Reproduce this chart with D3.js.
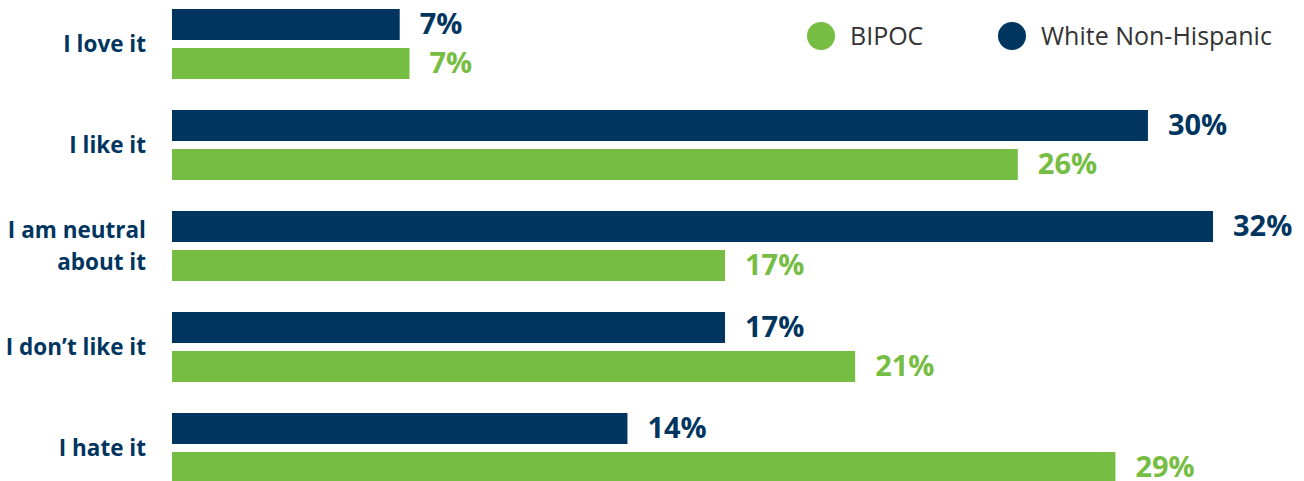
<!DOCTYPE html>
<html>
<head>
<meta charset="utf-8">
<script src="https://cdn.jsdelivr.net/npm/d3@7"></script>
<style>
  body { margin: 0; background: #fff; }
  svg { display: block; }
</style>
</head>
<body>
<div id="chart"></div>
<script>
// data
var categories = ["I love it", "I like it", "I am neutral about it", "I don\u2019t like it", "I hate it"];
var categoryLines = [["I love it"], ["I like it"], ["I am neutral", "about it"], ["I don\u2019t like it"], ["I hate it"]];
var seriesNames = ["White Non-Hispanic", "BIPOC"];
var whiteValues = [7, 30, 32, 17, 14];
var bipocValues = [7.3, 26, 17, 21, 29];
var legendOrder = ["BIPOC", "White Non-Hispanic"];

var navy = "#00355f",
    green = "#76bd43";

var width = 1304, height = 481;

var svg = d3.select("#chart").append("svg")
    .attr("width", width)
    .attr("height", height);

var x = d3.scaleLinear().domain([0, 32]).range([172, 1213]);

var y = d3.scaleBand()
    .domain(categories)
    .range([9, 9 + 101 * categories.length])
    .paddingInner(0)
    .paddingOuter(0);

var ySub = d3.scaleBand()
    .domain(seriesNames)
    .range([0, 70])
    .paddingInner(0.205);

var color = d3.scaleOrdinal().domain(seriesNames).range([navy, green]);

var rows = categories.map(function(c, i) {
    return {
        cat: c,
        lines: categoryLines[i],
        values: [
            {series: "White Non-Hispanic", value: whiteValues[i]},
            {series: "BIPOC", value: bipocValues[i]}
        ]
    };
});

var group = svg.selectAll(".group")
    .data(rows)
    .enter().append("g")
    .attr("class", "group")
    .attr("transform", function(d) { return "translate(0," + y(d.cat) + ")"; });

group.selectAll("rect")
    .data(function(d) { return d.values; })
    .enter().append("rect")
    .attr("x", x(0))
    .attr("y", function(d) { return ySub(d.series); })
    .attr("width", function(d) { return x(d.value) - x(0); })
    .attr("height", ySub.bandwidth())
    .attr("fill", function(d) { return color(d.series); });

group.selectAll(".value")
    .data(function(d) { return d.values; })
    .enter().append("text")
    .attr("class", "value")
    .attr("x", function(d) { return x(d.value) + 20; })
    .attr("y", function(d) { return ySub(d.series) + ySub.bandwidth() / 2 - 1; })
    .attr("dy", "0.36em")
    .style("font", "bold 29px 'Open Sans', sans-serif")
    .attr("fill", function(d) { return color(d.series); })
    .text(function(d) { return Math.round(d.value) + "%"; });

// category labels, right aligned
var label = group.append("text")
    .attr("x", 146)
    .attr("text-anchor", "end")
    .style("font", "bold 22.5px 'Open Sans', sans-serif")
    .attr("fill", navy);

label.selectAll("tspan")
    .data(function(d) { return d.lines.map(function(t, i) { return {t: t, i: i, n: d.lines.length}; }); })
    .enter().append("tspan")
    .attr("x", 146)
    .attr("y", function(d) { return 35 + (d.i - (d.n - 1) / 2) * 32; })
    .attr("dy", "0.36em")
    .text(function(d) { return d.t; });

// legend
var legendX = d3.scalePoint().domain(legendOrder).range([821, 1012]);

var legend = svg.selectAll(".legend")
    .data(legendOrder)
    .enter().append("g")
    .attr("class", "legend")
    .attr("transform", function(d) { return "translate(" + legendX(d) + ",36)"; });

legend.append("circle")
    .attr("r", 14)
    .attr("fill", function(d) { return color(d); });

legend.append("text")
    .attr("x", 29)
    .attr("dy", "0.36em")
    .style("font", "25px 'Open Sans', sans-serif")
    .attr("fill", "#333")
    .text(function(d) { return d; });
</script>
</body>
</html>
